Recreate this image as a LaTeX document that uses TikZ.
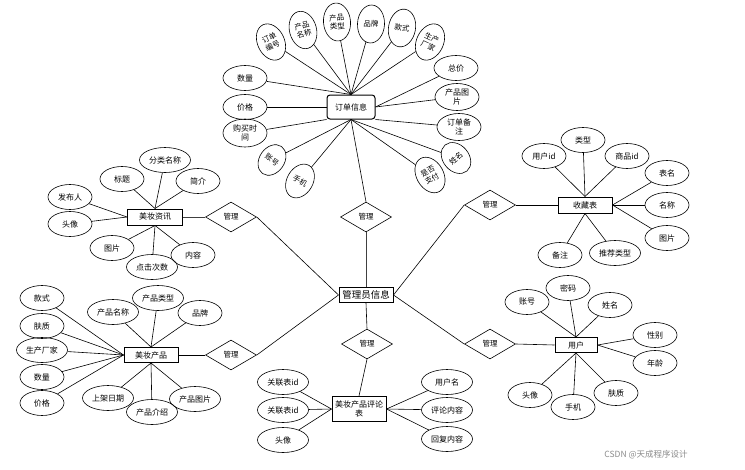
\documentclass[tikz,border=0pt]{standalone}
\usepackage{fontspec}
\setmainfont{Noto Sans CJK SC}
\usetikzlibrary{shapes.geometric}
\begin{document}
\begin{tikzpicture}[x=1pt,y=-1pt,
 attr/.style={ellipse,draw,line width=0.6pt,inner sep=0pt,minimum width=44pt,minimum height=25pt,font=\fontsize{8}{9}\selectfont,align=center},
 wattr/.style={attr,minimum width=51pt},
 rattr/.style={attr,minimum width=27pt,minimum height=38pt,font=\fontsize{7.5}{8.5}\selectfont},
 ent/.style={draw,line width=1pt,inner sep=0pt,minimum width=54pt,minimum height=16pt,font=\fontsize{8}{9}\selectfont,align=center},
 rel/.style={diamond,draw,line width=0.6pt,inner sep=0pt,minimum width=51pt,minimum height=30pt,font=\fontsize{7.5}{9}\selectfont},
 lnk/.style={line width=0.6pt},
 mlnk/.style={line width=1pt,draw=black!75}]
\useasboundingbox (0,0) rectangle (745,469);
\fill[white] (0,0) rectangle (745,469);

% ---------- central entity and relations
\node[ent,minimum height=15pt,font=\fontsize{9.5}{10}\selectfont] (adm) at (366,295) {管理员信息};
\node[rel] (rT) at (366,217) {管理};
\node[rel] (rB) at (367,344) {管理};
\node[rel] (rLT) at (231,217) {管理};
\node[rel] (rLB) at (231,355) {管理};
\node[rel] (rRT) at (490,205) {管理};
\node[rel] (rRB) at (490,344) {管理};

% ---------- 订单信息
\node[ent,rounded corners=3pt,minimum width=48pt,minimum height=24pt] (ord) at (351,107) {订单信息};
\node[rattr,rotate=25] (o1) at (271,42) {订单\\编号};
\node[rattr,rotate=15] (o2) at (303,30) {产品\\名称};
\node[rattr,rotate=5] (o3) at (337,22) {产品\\类型};
\node[rattr,rotate=-3] (o4) at (371,24) {品牌};
\node[rattr,rotate=-10] (o5) at (402,28) {款式};
\node[rattr,rotate=-25] (o6) at (430,42) {生产\\厂家};
\node[attr] (o7) at (245,78) {数量};
\node[attr] (o8) at (245,107) {价格};
\node[attr,minimum height=28pt] (o9) at (245,133) {购买时\\间};
\node[rattr,minimum width=25pt,minimum height=33pt,rotate=-35] (o10) at (272,160) {账号};
\node[rattr,minimum width=26pt,minimum height=36pt,rotate=-30] (o11) at (300,181) {手机};
\node[rattr,rotate=30] (o12) at (430,175) {是否\\支付};
\node[rattr,minimum width=26pt,minimum height=34pt,rotate=40] (o13) at (456,158) {姓名};
\node[attr] (o14) at (456,68) {总价};
\node[attr,minimum height=27pt] (o15) at (457,97) {产品图\\片};
\node[attr,minimum height=27pt] (o16) at (459,127) {订单备\\注};
\foreach \e in {o1,o2,o3,o4,o5,o6,o7} \draw[lnk] (\e) -- (ord.north);
\draw[lnk] (o8) -- (ord.west);
\draw[lnk] (o9) -- (ord.south west);
\foreach \e in {o10,o11,o12,o13} \draw[lnk] (\e) -- (ord.south);
\draw[lnk] (o14) -- (ord.east);
\draw[lnk] (o15) -- (ord.east);
\draw[lnk] (o16) -- (ord.south east);

% ---------- 美妆资讯
\node[ent,minimum width=55pt] (news) at (155,217) {美妆资讯};
\node[attr] (n1) at (70,197) {发布人};
\node[attr] (n2) at (70,224) {头像};
\node[attr] (n3) at (122,179) {标题};
\node[wattr] (n4) at (165,160) {分类名称};
\node[attr] (n5) at (198,181) {简介};
\node[attr] (n6) at (112,248) {图片};
\node[wattr] (n7) at (152,267) {点击次数};
\node[attr] (n8) at (193,255) {内容};
\foreach \e in {n1,n2} \draw[lnk] (\e) -- (news.west);
\foreach \e in {n3,n4,n5} \draw[lnk] (\e) -- (news.north);
\foreach \e in {n6,n7,n8} \draw[lnk] (\e) -- (news.south);

% ---------- 收藏表
\node[ent] (fav) at (585,205) {收藏表};
\node[attr] (f1) at (544,156) {用户id};
\node[attr] (f2) at (583,140) {类型};
\node[attr] (f3) at (627,156) {商品id};
\node[attr] (f4) at (667,173) {表名};
\node[attr] (f5) at (667,205) {名称};
\node[attr] (f6) at (667,238) {图片};
\node[attr] (f7) at (560,255) {备注};
\node[wattr] (f8) at (615,253) {推荐类型};
\foreach \e in {f1,f2,f3} \draw[lnk] (\e) -- (fav.north);
\foreach \e in {f4,f5,f6} \draw[lnk] (\e) -- (fav.east);
\foreach \e in {f7,f8} \draw[lnk] (\e) -- (fav.south);

% ---------- 美妆产品
\node[ent,minimum height=15pt] (prod) at (151,355) {美妆产品};
\node[attr] (p1) at (42,298) {款式};
\node[attr] (p2) at (42,326) {肤质};
\node[wattr] (p3) at (42,350) {生产厂家};
\node[attr] (p4) at (42,377) {数量};
\node[attr] (p5) at (42,403) {价格};
\node[wattr] (p6) at (113,312) {产品名称};
\node[wattr] (p7) at (158,298) {产品类型};
\node[attr] (p8) at (200,313) {品牌};
\node[wattr] (p9) at (108,398) {上架日期};
\node[wattr] (p10) at (152,412) {产品介绍};
\node[wattr] (p11) at (195,399) {产品图片};
\foreach \e in {p1,p2,p3,p4,p5} \draw[lnk] (\e) -- (prod.west);
\foreach \e in {p6,p7,p8} \draw[lnk] (\e) -- (prod.north);
\foreach \e in {p9,p10,p11} \draw[lnk] (\e) -- (prod.south);

% ---------- 美妆产品评论表
\node[ent,minimum height=25pt] (cmt) at (359,409) {美妆产品评论\\表};
\node[wattr] (c1) at (283,382) {关联表id};
\node[wattr] (c2) at (283,410) {关联表id};
\node[wattr] (c3) at (283,440) {头像};
\node[wattr] (c4) at (447,382) {用户名};
\node[wattr] (c5) at (447,410) {评论内容};
\node[wattr] (c6) at (447,439) {回复内容};
\foreach \e in {c1,c2,c3} \draw[lnk] (\e) -- (cmt.west);
\foreach \e in {c4,c5,c6} \draw[lnk] (\e) -- (cmt.east);

% ---------- 用户
\node[ent,minimum width=42pt,minimum height=15pt] (usr) at (576,345) {用户};
\node[attr] (u1) at (527,302) {账号};
\node[attr] (u2) at (568,288) {密码};
\node[attr] (u3) at (610,305) {姓名};
\node[attr] (u4) at (655,335) {性别};
\node[attr] (u5) at (655,363) {年龄};
\node[attr] (u6) at (530,395) {头像};
\node[attr] (u7) at (573,407) {手机};
\node[attr] (u8) at (616,393) {肤质};
\foreach \e in {u1,u2,u3} \draw[lnk] (\e) -- (usr.north);
\foreach \e in {u4,u5} \draw[lnk] (\e) -- (usr.east);
\foreach \e in {u6,u7,u8} \draw[lnk] (\e) -- (usr.south);

% ---------- relation links
\draw[lnk] (ord.south) -- (rT.north);
\draw[mlnk] (rT.south) -- (adm.north);
\draw[lnk] (adm.south) -- (rB.north);
\draw[lnk] (rB.south) -- (cmt.north);
\draw[mlnk] (news.east) -- (rLT.west);
\draw[lnk] (rLT.east) -- (adm.west);
\draw[lnk] (prod.east) -- (rLB.west);
\draw[lnk] (rLB.east) -- (adm.west);
\draw[lnk] (rRT.east) -- (fav.west);
\draw[lnk] (rRT.west) -- (adm.east);
\draw[lnk] (rRB.east) -- (usr.west);
\draw[lnk] (rRB.west) -- (adm.east);

% ---------- watermark
\node[text=black!45,font=\fontsize{8.5}{10}\selectfont,inner sep=0pt] (wm) at (646,455) {CSDN @天成程序设计};
\end{tikzpicture}
\end{document}
